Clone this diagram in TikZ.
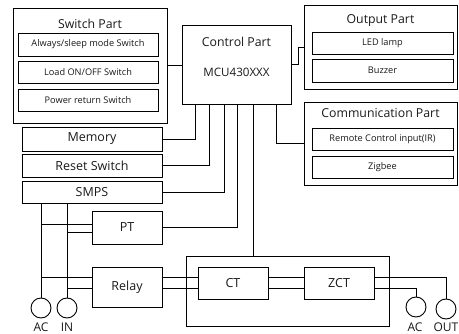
\documentclass[tikz,border=0pt]{standalone}
\usepackage{fontspec}
\setmainfont{Open Sans}
\begin{document}
\begin{tikzpicture}[x=1pt,y=-1pt,line width=0.9pt,
  box/.style={draw, rectangle, inner sep=0pt, text=black!90},
  title/.style={font=\fontsize{12.3}{14}\selectfont, text=black!90, inner sep=0pt},
  small/.style={font=\fontsize{9.2}{11}\selectfont},
  mid/.style={font=\fontsize{12.5}{14}\selectfont},
  term/.style={draw, circle, minimum size=20pt, inner sep=0pt},
  tlabel/.style={font=\fontsize{12}{14}\selectfont, inner sep=0pt, text=black!90}]
\useasboundingbox (0,0) rectangle (459,334);

% Switch part
\node[box, minimum width=154pt, minimum height=115pt] (sw) at (90,65.5) {};
\node[title] (swt) at (90,24) {Switch Part};
\node[box, small, minimum width=140pt, minimum height=23pt] (sw1) at (88,44.5) {Always/sleep mode Switch};
\node[box, small, minimum width=140pt, minimum height=22pt] (sw2) at (88,72) {Load ON/OFF Switch};
\node[box, small, minimum width=140pt, minimum height=22pt] (sw3) at (88,100) {Power return Switch};

% Control part
\node[box, minimum width=109pt, minimum height=79pt] (ctrl) at (236.5,64.5) {};
\node[title] (ctrlt) at (236.5,42) {Control Part};
\node[title, font=\fontsize{11.6}{14}\selectfont] (mcu) at (236.5,72) {MCU430XXX};

% Output part
\node[box, minimum width=153pt, minimum height=84pt] (out) at (380.5,47) {};
\node[title] (outt) at (380.5,21) {Output Part};
\node[box, small, minimum width=141pt, minimum height=22pt] (led) at (382.5,43) {LED lamp};
\node[box, small, minimum width=141pt, minimum height=23pt] (buz) at (382.5,70.5) {Buzzer};

% Communication part
\node[box, minimum width=153pt, minimum height=83pt] (com) at (380.5,143.5) {};
\node[title] (comt) at (380.5,113) {Communication Part};
\node[box, small, minimum width=141pt, minimum height=22pt] (rem) at (382.5,139) {Remote Control input(IR)};
\node[box, small, minimum width=141pt, minimum height=22pt] (zig) at (382.5,167) {Zigbee};

% Left column
\node[box, mid, minimum width=140pt, minimum height=24pt] (mem) at (92,139) {Memory};
\node[box, mid, minimum width=140pt, minimum height=23pt] (rst) at (92,165.5) {Reset Switch};
\node[box, mid, minimum width=140pt, minimum height=22pt] (smps) at (92,192) {SMPS};
\node[box, mid, minimum width=70pt, minimum height=33pt] (pt) at (127,227.5) {PT};
\node[box, mid, minimum width=70pt, minimum height=40pt] (relay) at (127,287) {Relay};

% Sensing block
\node[box, minimum width=203pt, minimum height=70pt] (big) at (287.5,291) {};
\node[box, mid, minimum width=70pt, minimum height=32pt] (ct) at (233,283) {CT};
\node[box, mid, minimum width=70pt, minimum height=32pt] (zct) at (339,283) {ZCT};

% Terminals
\node[term] (acl) at (41,308) {};
\node[term] (inl) at (67,308) {};
\node[term] (acr) at (416,307) {};
\node[term] (outr) at (446,309) {};
\node[tlabel] at (41,327) {AC};
\node[tlabel] at (67,327) {IN};
\node[tlabel] at (415,327) {AC};
\node[tlabel] at (446,327) {OUT};

% Control bus
\draw (sw.east) -- (sw.east -| ctrl.west);
\draw (ctrl.east |- 0,64) -- (298,64) |- (out.west);
\draw (ctrl.south -| 276,0) |- (com.west);
\draw (ctrl.south -| 195,0) |- (mem.east);
\draw (ctrl.south -| 209,0) |- (rst.east);
\draw (ctrl.south -| 224,0) |- (smps.east);
\draw (ctrl.south -| 237,0) |- (pt.east);
\draw (ctrl.south -| 253,0) -- (big.north -| 253,0);

% Power lines
\draw (smps.south -| acl.north) -- (acl.north);
\draw (smps.south -| inl.north) -- (inl.north);
\draw (41,224) -- (pt.west |- 0,224);
\draw (67,232) -- (pt.west |- 0,232);
\draw (41,277) -- (relay.west |- 0,277);
\draw (67,288) -- (relay.west |- 0,288);
\draw (relay.east |- 0,277) -- (ct.west |- 0,277);
\draw (relay.east |- 0,288) -- (ct.west |- 0,288);
\draw (ct.east |- 0,277) -- (zct.west |- 0,277);
\draw (ct.east |- 0,288) -- (zct.west |- 0,288);
\draw (zct.east |- 0,277) -| (outr.north);
\draw (zct.east |- 0,288) -| (acr.north);
\end{tikzpicture}
\end{document}
